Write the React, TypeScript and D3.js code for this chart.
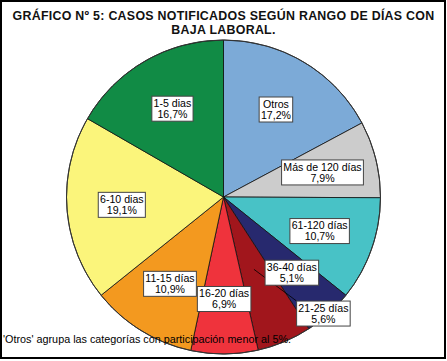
import React, { useEffect, useRef } from "react";
import * as d3 from "d3";

const titleLines = [
  "GRÁFICO Nº 5: CASOS NOTIFICADOS SEGÚN RANGO DE DÍAS CON",
  "BAJA LABORAL.",
];
const categories = [
  "Otros",
  "Más de 120 días",
  "61-120 días",
  "36-40 días",
  "21-25 días",
  "16-20 días",
  "11-15 días",
  "6-10 dias",
  "1-5 dias",
];
const values = [17.2, 7.9, 10.7, 5.1, 5.6, 6.9, 10.9, 19.1, 16.7];
const valueLabels = ["17,2%", "7,9%", "10,7%", "5,1%", "5,6%", "6,9%", "10,9%", "19,1%", "16,7%"];
const colors = [
  "#7caad7",
  "#cccccc",
  "#48c2c6",
  "#27296e",
  "#a1161c",
  "#ef333c",
  "#f3991f",
  "#fbf57b",
  "#118b45",
];
const footnote = "'Otros' agrupa las categorías con participación menor al 5%.";

export default function App() {
  const ref = useRef<SVGSVGElement>(null);
  useEffect(() => {
    document.body.style.margin = "0";
    const svg = d3.select(ref.current);
    svg.selectAll("*").remove();
    const W = 447, H = 361;
    svg.append("rect").attr("x", 0).attr("y", 0).attr("width", W).attr("height", H).attr("fill", "#fff");

    const cx = 223.5, cy = 197, R = 157;
    const g = svg.append("g").attr("transform", `translate(${cx},${cy})`);
    const pie = d3.pie<number>().sort(null).value((d) => d).startAngle(0).endAngle(2 * Math.PI);
    const arcs = pie(values);
    const arc = d3.arc<d3.PieArcDatum<number>>().innerRadius(0).outerRadius(R);
    g.selectAll("path.slice")
      .data(arcs)
      .join("path")
      .attr("class", "slice")
      .attr("d", arc)
      .attr("fill", (_, i) => colors[i])
      .attr("stroke", "#111")
      .attr("stroke-width", 0.8);
    g.append("circle").attr("r", R).attr("fill", "none").attr("stroke", "#333").attr("stroke-width", 1);

    const labelR = 102;
    const outside = new Set([4]);
    const pos = arcs.map((a, i) => {
      const mid = (a.startAngle + a.endAngle) / 2;
      let ang = mid, r = labelR;
      if (outside.has(i)) { ang = mid - 0.31; r = 153.5; }
      return [Math.sin(ang) * r, -Math.cos(ang) * r];
    });

    arcs.forEach((a, i) => {
      if (!outside.has(i)) return;
      const mid = (a.startAngle + a.endAngle) / 2;
      const x0 = Math.sin(mid) * R * 0.5, y0 = -Math.cos(mid) * R * 0.5;
      (pos[i] as any).leader = [x0, y0];
    });

    const font = "'Liberation Sans', Arial, sans-serif";
    const boxes: any[] = [];
    arcs.forEach((a, i) => {
      const lg = g.append("g").attr("transform", `translate(${pos[i][0]},${pos[i][1]})`);
      const rect = lg.append("rect");
      const t1 = lg.append("text").attr("text-anchor", "middle").attr("y", -1.8)
        .attr("font-family", font).attr("font-size", 10.6).attr("fill", "#000").text(categories[i]);
      const t2 = lg.append("text").attr("text-anchor", "middle").attr("y", 9.2)
        .attr("font-family", font).attr("font-size", 10.6).attr("fill", "#000").text(valueLabels[i]);
      const w = Math.max((t1.node() as SVGTextElement).getComputedTextLength(), (t2.node() as SVGTextElement).getComputedTextLength()) + 3.5;
      rect.attr("x", -w / 2).attr("y", -12.5).attr("width", w).attr("height", 25)
        .attr("fill", "#fff").attr("stroke", "#444").attr("stroke-width", 1);
      boxes.push({ lg, w, i });
    });
    arcs.forEach((a, i) => {
      const p: any = pos[i];
      if (!p.leader) return;
      const b = boxes.find((bb) => bb.i === i);
      g.insert("line", "g")
        .attr("x1", p.leader[0]).attr("y1", p.leader[1])
        .attr("x2", p[0] - b.w / 2).attr("y2", p[1] - 12.5)
        .attr("stroke", "#000").attr("stroke-width", 0.8);
    });

    svg.selectAll("text.title")
      .data(titleLines)
      .join("text")
      .attr("class", "title")
      .attr("x", 223.5)
      .attr("y", (_, i) => 19.5 + i * 14)
      .attr("text-anchor", "middle")
      .attr("font-family", font)
      .attr("font-weight", "bold")
      .attr("font-size", 12.4)
      .attr("letter-spacing", 0.28)
      .attr("fill", "#111")
      .text((d) => d);

    svg.append("text").attr("x", 3).attr("y", 343)
      .attr("font-family", font).attr("font-size", 10.8).attr("fill", "#000").text(footnote);

    svg.append("rect").attr("x", 1).attr("y", 1).attr("width", 444).attr("height", 357)
      .attr("fill", "none").attr("stroke", "#000").attr("stroke-width", 2);
  }, []);
  return <svg ref={ref} width={447} height={361} style={{ display: "block" }} />;
}
